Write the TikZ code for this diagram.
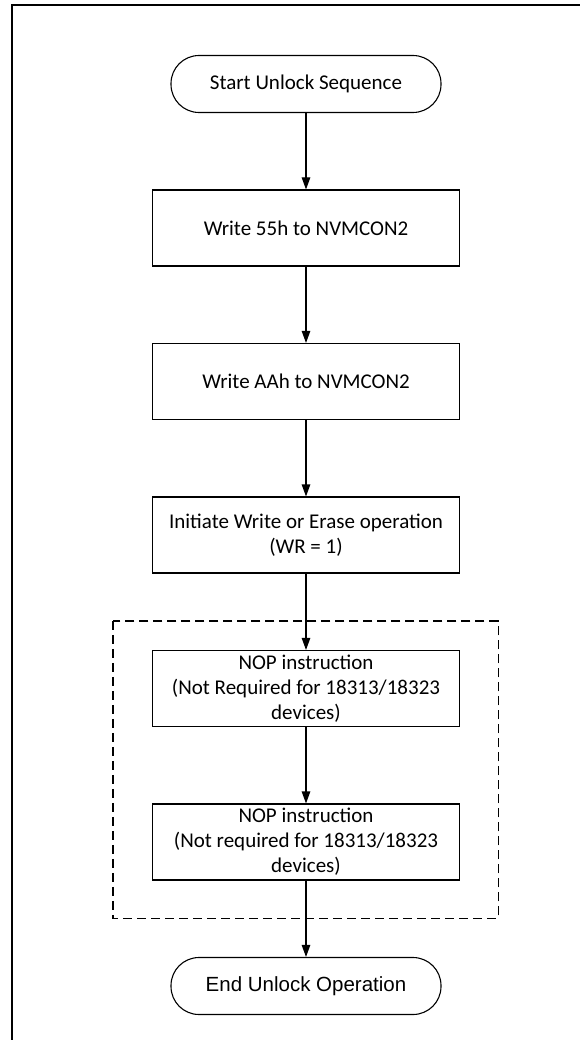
\documentclass[tikz,border=0pt]{standalone}
\usepackage{fontspec}
\setmainfont{Carlito}
\newfontfamily\arialfont{Liberation Sans}
\usetikzlibrary{arrows.meta,positioning}

\begin{document}
\begin{tikzpicture}[x=1pt, y=-1pt,
  node distance=76.4pt,
  line width=1.1pt,
  font=\fontsize{21}{25}\selectfont,
  box/.style={rectangle, draw=black, minimum width=307pt, minimum height=76pt, inner sep=1pt, align=center},
  term/.style={rectangle, rounded corners=28pt, draw=black, minimum width=270pt, minimum height=57pt, inner sep=1pt, align=center},
  arr/.style={-{Triangle[length=12pt, width=8.5pt]}}]
\useasboundingbox (0,0) rectangle (580,1040);
\draw[line width=1.8pt] (12,1040) -- (12,5) -- (580,5);
\node[term] (n0) at (306,84) {Start Unlock Sequence};
\node[box, below=of n0] (n1) {Write 55h to NVMCON2};
\node[box, below=of n1] (n2) {Write AAh to NVMCON2};
\node[box, below=of n2] (n3) {Initiate Write or Erase operation\\(WR = 1)};
\node[box, below=of n3] (n4) {NOP instruction\\(Not Required for 18313/18323\\devices)};
\node[box, below=of n4] (n5) {NOP instruction\\(Not required for 18313/18323\\devices)};
\node[term, below=of n5, font=\arialfont\fontsize{20.5}{25}\selectfont] (n6) {End Unlock Operation};
% optional NOP group
\draw[dashed, dash pattern=on 9pt off 5pt] ([xshift=-39pt, yshift=29pt]n4.north west) rectangle ([xshift=38pt, yshift=-38pt]n5.south east);
\foreach \i/\j in {0/1,1/2,2/3,3/4,4/5,5/6} \draw[arr] (n\i) -- (n\j);
\end{tikzpicture}
\end{document}
